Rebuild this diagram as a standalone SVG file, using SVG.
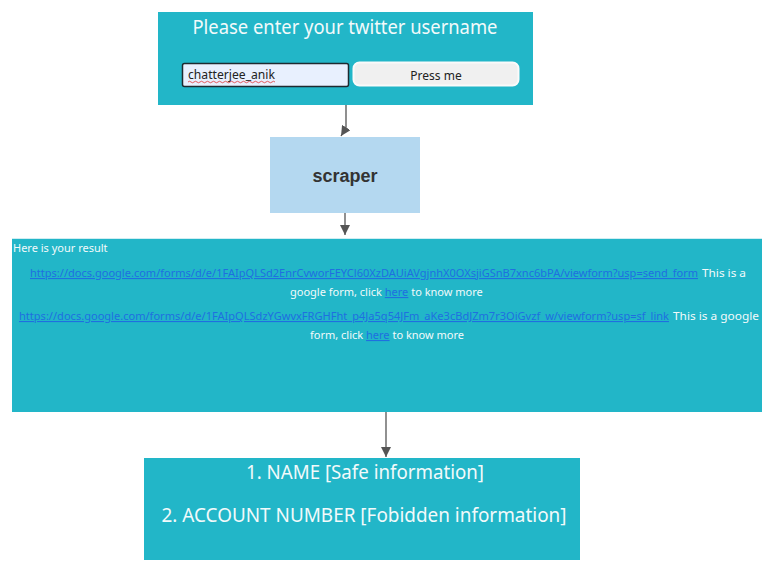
<svg xmlns="http://www.w3.org/2000/svg" width="774" height="572" viewBox="0 0 774 572">
<style>
.panel{fill:#22b6c8}
.ui{font-family:"Noto Sans","Open Sans","DejaVu Sans",sans-serif}
.wt{fill:#f2fafb}
.lnk{fill:#1f6fe0;text-decoration:underline}
.conn{stroke:#555;stroke-width:1.3;fill:none}
</style>
<defs>
<marker id="ah" viewBox="0 0 10 10" refX="10" refY="5" markerWidth="10" markerHeight="10" markerUnits="userSpaceOnUse" orient="auto">
<path d="M0,0 L10,5 L0,10 z" fill="#555"/>
</marker>
</defs>
<rect width="774" height="572" fill="#fff"/>
<g id="connectors">
<path class="conn" d="M346,105 L346,128 L341,136" marker-end="url(#ah)"/>
<line class="conn" x1="345" y1="213" x2="345" y2="235" marker-end="url(#ah)"/>
<line class="conn" x1="386" y1="412" x2="386" y2="457" marker-end="url(#ah)"/>
</g>
<g id="input-form">
<rect class="panel" x="158" y="12" width="375" height="93"/>
<text class="ui wt" x="345" y="34" font-size="19" text-anchor="middle" textLength="305" lengthAdjust="spacingAndGlyphs">Please enter your twitter username</text>
<rect x="182.5" y="63.5" width="166" height="23" rx="2" fill="#e8f0fe" stroke="#1e2a30" stroke-width="1.5"/>
<text class="ui" x="188" y="79" font-size="12" fill="#222" textLength="87" lengthAdjust="spacingAndGlyphs">chatterjee_anik</text>
<path d="M188,82 q1.5,-1.5 3,0 t3,0 t3,0 t3,0 t3,0 t3,0 t3,0 t3,0 t3,0 t3,0 t3,0 t3,0 t3,0 t3,0 t3,0 t3,0 t3,0 t3,0 t3,0 t3,0 t3,0 t3,0 t3,0 t3,0 t3,0 t3,0 t3,0 t3,0 t3,0" stroke="#d33" stroke-width="0.8" fill="none"/>
<rect x="353.5" y="62.5" width="165" height="23" rx="6" fill="#f0f0f0" stroke="#fafafa" stroke-width="2"/>
<text class="ui" x="436" y="80" font-size="12" fill="#222" text-anchor="middle">Press me</text>
</g>
<g id="scraper">
<rect x="270" y="137" width="150" height="76" fill="#b4d8f0"/>
<text x="345" y="182" font-family="'Liberation Sans',Arial,sans-serif" font-weight="bold" font-size="18" fill="#333" text-anchor="middle">scraper</text>
</g>
<g id="result">
<rect class="panel" x="12" y="238" width="750" height="174"/>
<line x1="12" y1="238.5" x2="762" y2="238.5" stroke="#cfeef3" stroke-width="1"/>
<text class="ui wt" x="13" y="252" font-size="11">Here is your result</text>
<text class="ui lnk" x="30" y="277" font-size="11" textLength="668" lengthAdjust="spacingAndGlyphs">https://docs.google.com/forms/d/e/1FAIpQLSd2EnrCvworFEYCl60XzDAUiAVgjnhX0OXsjiGSnB7xnc6bPA/viewform?usp=send_form</text>
<text class="ui wt" x="702" y="277" font-size="11" textLength="44" lengthAdjust="spacingAndGlyphs">This is a</text>
<text class="ui wt" x="290" y="296" font-size="11">google form, click <tspan class="lnk">here</tspan> to know more</text>
<text class="ui lnk" x="19" y="320" font-size="11" textLength="650" lengthAdjust="spacingAndGlyphs">https://docs.google.com/forms/d/e/1FAIpQLSdzYGwvxFRGHFht_p4Ja5q54JFm_aKe3cBdJZm7r3OiGvzf_w/viewform?usp=sf_link</text>
<text class="ui wt" x="673" y="320" font-size="11" textLength="86" lengthAdjust="spacingAndGlyphs">This is a google</text>
<text class="ui wt" x="310" y="339" font-size="11">form, click <tspan class="lnk">here</tspan> to know more</text>
</g>
<g id="info">
<rect class="panel" x="144" y="458" width="436" height="102"/>
<text class="ui wt" x="365" y="479" font-size="19" text-anchor="middle" textLength="238" lengthAdjust="spacingAndGlyphs">1. NAME [Safe information]</text>
<text class="ui wt" x="364" y="522" font-size="19" text-anchor="middle" textLength="405" lengthAdjust="spacingAndGlyphs">2. ACCOUNT NUMBER [Fobidden information]</text>
</g>
</svg>
